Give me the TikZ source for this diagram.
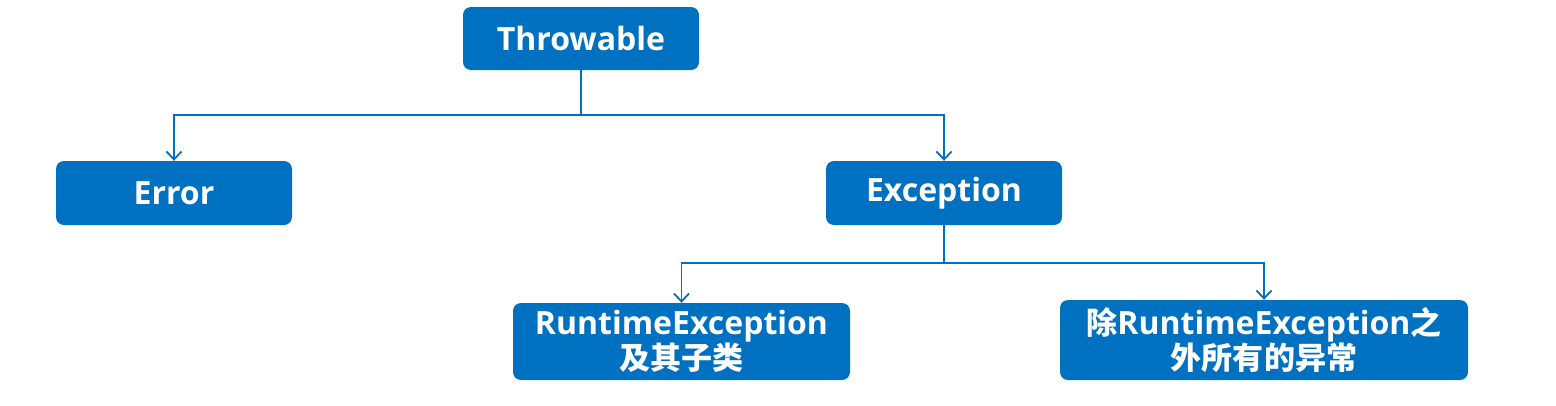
\documentclass[tikz,border=0pt]{standalone}
\usepackage{fontspec}
\setmainfont{Open Sans}
\newfontfamily\cjk[Scale=0.97]{Noto Sans CJK SC}
\usetikzlibrary{arrows.meta}
\definecolor{boxblue}{HTML}{0070C0}
\begin{document}
\begin{tikzpicture}[x=1pt,y=-1pt,
  box/.style={fill=boxblue, rounded corners=8pt, text=white, font=\bfseries\fontsize{32}{33}\selectfont, align=center, inner sep=0pt},
  conn/.style={draw=boxblue, line width=1.8pt, -{Straight Barb[length=8pt,width=15pt,line width=1.8pt]}}]
\useasboundingbox (0,0) rectangle (1556,405);
\node[box, minimum width=236pt, minimum height=63pt] (thr) at (581,38.5) {Throwable};
\node[box, minimum width=236pt, minimum height=64pt] (err) at (174,193) {Error};
\node[box, minimum width=236pt, minimum height=64pt] (exc) at (944,193) {Exception};
\node[box, minimum width=337pt, minimum height=77pt] (rte) at (681.5,341.5) {RuntimeException\\{\cjk 及其子类}};
\node[box, minimum width=408pt, minimum height=80pt] (oth) at (1264,340) {{\cjk 除}RuntimeException{\cjk 之}\\{\cjk 外所有的异常}};
\coordinate (j1) at (581,115);
\coordinate (j2) at (944,263);
\draw[conn] (thr.south) -- (j1) -| (err.north);
\draw[conn] (j1) -| (exc.north);
\draw[conn] (exc.south) -- (j2) -| (rte.north);
\draw[conn] (j2) -| (oth.north);
\end{tikzpicture}
\end{document}
